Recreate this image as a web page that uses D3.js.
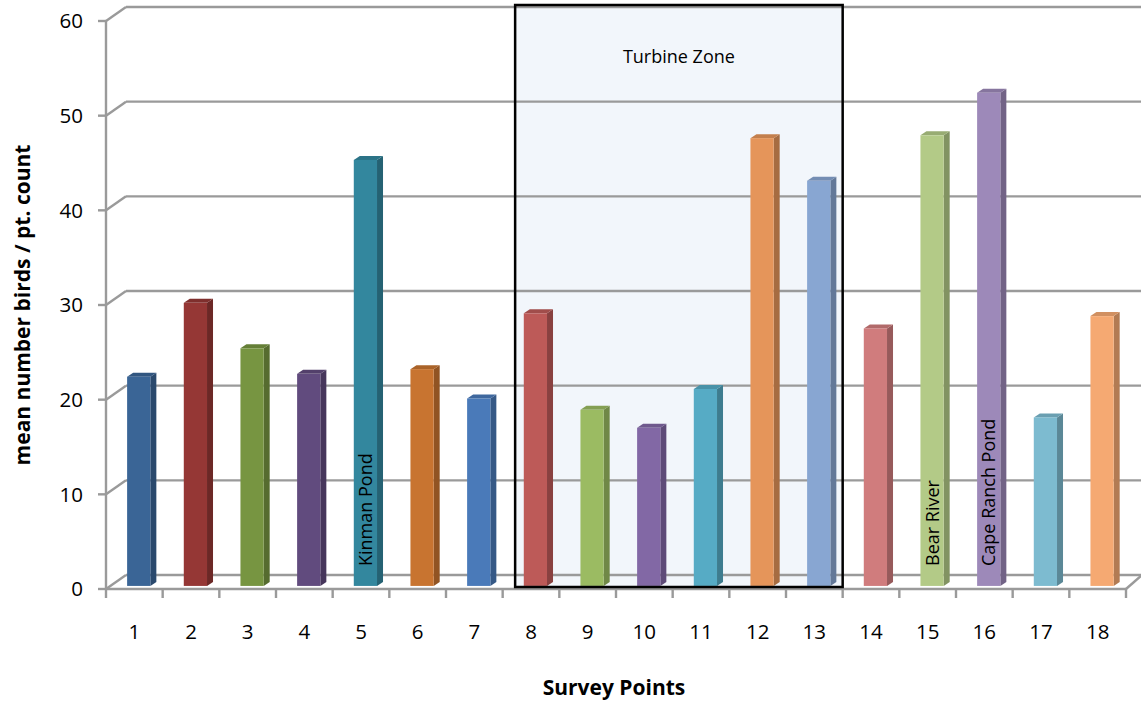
<!DOCTYPE html>
<html>
<head>
<meta charset="utf-8">
<script src="https://cdn.jsdelivr.net/npm/d3@7/dist/d3.min.js"></script>
<style>
  html, body { margin: 0; padding: 0; background: #ffffff; }
  svg { display: block; }
  text { font-family: "Open Sans", "Noto Sans", sans-serif; fill: #000; }
</style>
</head>
<body>
<svg id="chart" width="1141" height="702"></svg>
<script>
// ---- data ----
const points = ["1","2","3","4","5","6","7","8","9","10","11","12","13","14","15","16","17","18"];
const values = [22.1, 29.9, 25.1, 22.4, 45.0, 22.9, 19.8, 28.8, 18.6, 16.7, 20.8, 47.3, 42.8, 27.2, 47.6, 52.1, 17.8, 28.5];
const barColors = ["#3a6596","#953735","#779541","#614b7e","#33879e","#c87430","#4a7ab9",
                   "#bd5a58","#9bbb62","#8268a5","#56abc5","#e5955a","#88a6d2",
                   "#d07c7d","#b3ca87","#9d89b9","#7dbbd0","#f5a972"];
const yTicks = [0, 10, 20, 30, 40, 50, 60];
const labelPoints = ["5", "15", "16"];
const labelTexts = ["Kinman Pond", "Bear River", "Cape Ranch Pond"];
const zoneStart = "8", zoneEnd = "13", zoneTitle = "Turbine Zone";
const xTitle = "Survey Points";
const yTitle = "mean number birds / pt. count";

// ---- layout ----
const svg = d3.select("#chart");
const x0 = 106, x1 = 1126;
const yBottom = 589, yTop = 21;
const depthX = 20, depthY = -14;      // back wall offset
const barF = 0.22;                     // bar front-face depth fraction
const barDX = 6, barDY = -4;           // bar own depth

const x = d3.scaleBand().domain(points).range([x0, x1]).paddingInner(0).paddingOuter(0);
const y = d3.scaleLinear().domain([0, 60]).range([yBottom, yTop]);

const gridColor = "#9a9a9a";

// Turbine zone fill (beneath grid)
const zx0 = x(zoneStart) + x.bandwidth() * 0.22;
const zx1 = x(zoneEnd) + x.bandwidth();
const zy0 = 5, zy1 = yBottom - 2;
svg.append("rect")
  .attr("x", zx0).attr("y", zy0).attr("width", zx1 - zx0).attr("height", zy1 - zy0)
  .attr("fill", "#f2f6fb");

// back wall gridlines + left connectors
const grid = svg.append("g");
yTicks.forEach(v => {
  const yf = y(v);
  grid.append("line")
    .attr("x1", x0 + depthX).attr("x2", x1 + depthX + 2)
    .attr("y1", yf + depthY).attr("y2", yf + depthY)
    .attr("stroke", gridColor).attr("stroke-width", 2.4);
  grid.append("line")
    .attr("x1", x0).attr("x2", x0 + depthX)
    .attr("y1", yf).attr("y2", yf + depthY)
    .attr("stroke", gridColor).attr("stroke-width", 2.4);
});
// floor right edge
grid.append("line")
  .attr("x1", x1).attr("y1", y(0))
  .attr("x2", x1 + depthX - 4).attr("y2", y(0) + depthY)
  .attr("stroke", gridColor).attr("stroke-width", 2.4);

// front axes
const axisG = svg.append("g");
axisG.append("line").attr("x1", x0).attr("x2", x0).attr("y1", y(60)).attr("y2", y(0) + 1)
  .attr("stroke", gridColor).attr("stroke-width", 2.4);
axisG.append("line").attr("x1", x0).attr("x2", x1).attr("y1", y(0)).attr("y2", y(0))
  .attr("stroke", gridColor).attr("stroke-width", 2.4);
yTicks.forEach(v => {
  axisG.append("line").attr("x1", x0 - 8).attr("x2", x0).attr("y1", y(v)).attr("y2", y(v))
    .attr("stroke", gridColor).attr("stroke-width", 2.4);
  axisG.append("text").attr("x", x0 - 23).attr("y", y(v)).attr("dy", "0.36em")
    .attr("text-anchor", "end").attr("font-size", 20.5).text(v);
});
points.concat(["_end"]).forEach((p, i) => {
  const xx = i < points.length ? x(p) : x1;
  axisG.append("line").attr("x1", xx).attr("x2", xx).attr("y1", y(0)).attr("y2", y(0) + 9)
    .attr("stroke", gridColor).attr("stroke-width", 2.4);
});
points.forEach(p => {
  axisG.append("text").attr("x", x(p) + x.bandwidth() / 2).attr("y", 632).attr("dy", "0.36em")
    .attr("text-anchor", "middle").attr("font-size", 20.5).text(p);
});

// bars
const bw = x.bandwidth() * 0.41;
const bars = svg.append("g");
points.forEach((p, i) => {
  const v = values[i];
  const c = d3.color(barColors[i]);
  const cx = x(p) + x.bandwidth() / 2 + depthX * barF;
  const xl = cx - bw / 2, xr = cx + bw / 2;
  const yb = y(0) + depthY * barF;
  const yt = y(v) + depthY * barF;
  // side
  bars.append("path")
    .attr("d", `M${xr},${yt}L${xr + barDX},${yt + barDY}L${xr + barDX},${yb + barDY}L${xr},${yb}Z`)
    .attr("fill", c.darker(0.9));
  // top
  bars.append("path")
    .attr("d", `M${xl},${yt}L${xl + barDX},${yt + barDY}L${xr + barDX},${yt + barDY}L${xr},${yt}Z`)
    .attr("fill", c.darker(0.45));
  // front
  bars.append("rect").attr("x", xl).attr("y", yt).attr("width", bw).attr("height", yb - yt)
    .attr("fill", c);
});

// bar labels
labelPoints.forEach((p, i) => {
  const cx = x(p) + x.bandwidth() / 2 + depthX * barF;
  svg.append("text")
    .attr("transform", `translate(${cx},${566}) rotate(-90)`)
    .attr("dy", "0.36em").attr("text-anchor", "start").attr("font-size", 18)
    .attr("fill", "#111").text(labelTexts[i]);
});

// zone border + title
svg.append("rect")
  .attr("x", zx0).attr("y", zy0).attr("width", zx1 - zx0).attr("height", zy1 - zy0)
  .attr("fill", "none").attr("stroke", "#000").attr("stroke-width", 2.5);
svg.append("text").attr("x", (zx0 + zx1) / 2).attr("y", 57).attr("dy", "0.36em")
  .attr("text-anchor", "middle").attr("font-size", 18).text(zoneTitle);

// axis titles
svg.append("text").attr("x", 614).attr("y", 687).attr("dy", "0.36em")
  .attr("text-anchor", "middle").attr("font-size", 21).attr("font-weight", "bold").text(xTitle);
svg.append("text").attr("transform", `translate(22,305) rotate(-90)`).attr("dy", "0.36em")
  .attr("text-anchor", "middle").attr("font-size", 21).attr("font-weight", "bold").text(yTitle);
</script>
</body>
</html>
